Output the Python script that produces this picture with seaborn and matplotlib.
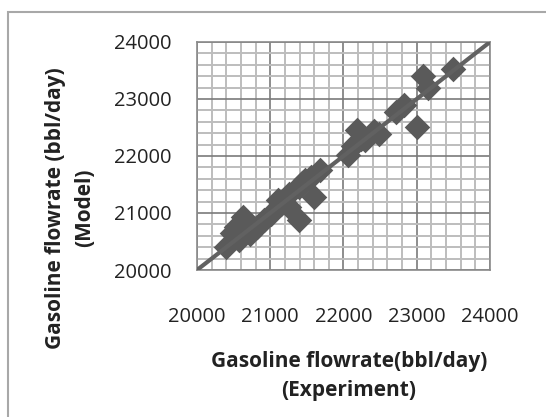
import matplotlib
matplotlib.use("Agg")
import matplotlib.pyplot as plt
import matplotlib.patches as patches
from matplotlib.ticker import MultipleLocator
import pandas as pd
import seaborn as sns

# gasoline flowrate, bbl/day
experiment = [23490, 23080, 23150, 22820, 22720, 23000, 22180, 22410, 22300, 22130,
              22060, 21680, 21560, 21440, 21600, 21390, 21250, 21100, 21250, 21390,
              21010, 20910, 20820, 20630, 20530, 20580, 20390, 20720, 20670, 21150,
              22240, 22480, 21480, 20480]
model = [23520, 23400, 23190, 22900, 22780, 22500, 22460, 22430, 22280, 22170,
         22020, 21750, 21640, 21520, 21280, 21460, 21340, 21220, 21100, 20870,
         20990, 20870, 20750, 20930, 20750, 20520, 20400, 20640, 20850, 21150,
         22300, 22380, 21580, 20650]
fit_x = [20000, 24000]
fit_y = [20000, 24000]
ticks = [20000, 21000, 22000, 23000, 24000]

df = pd.DataFrame({"experiment": experiment, "model": model})

sns.set_style("white")
plt.rcParams["font.family"] = ["Open Sans", "DejaVu Sans"]

fig = plt.figure(figsize=(5.46, 4.17), dpi=100)
ax = fig.add_axes([197 / 546, 1 - 270 / 417, 293 / 546, 228 / 417])

sns.scatterplot(data=df, x="experiment", y="model", marker="D", s=170,
                color="#5a5a5a", edgecolor="#5a5a5a", linewidth=0, ax=ax, zorder=3)
sns.lineplot(x=fit_x, y=fit_y, color="#616161", linewidth=3, ax=ax, zorder=4)

ax.set_xlim(20000, 24000)
ax.set_ylim(20000, 24000)
ax.set_xticks(ticks)
ax.set_yticks(ticks)
ax.xaxis.set_minor_locator(MultipleLocator(200))
ax.yaxis.set_minor_locator(MultipleLocator(200))
ax.grid(which="minor", color="#bdbdbd", linewidth=1.4, zorder=0)
ax.grid(which="major", color="#7a7a7a", linewidth=1.2, zorder=1)
ax.set_axisbelow(True)
for s in ax.spines.values():
    s.set_color("#8a8a8a")
    s.set_linewidth(1.2)

ax.tick_params(which="major", direction="out", length=6.5, width=1.2, color="#8a8a8a",
               labelsize=14.5, colors="#8a8a8a", labelcolor="#222222")
ax.tick_params(which="minor", length=0)
ax.tick_params(axis="x", pad=20)
ax.tick_params(axis="y", pad=12)

ax.set_xlabel("")
ax.set_ylabel("")
fig.text(349 / 546, 1 - 376 / 417, "Gasoline flowrate(bbl/day)\n(Experiment)",
         ha="center", va="center", fontsize=15, fontweight="bold", linespacing=1.5,
         color="#222222")
fig.text(70 / 546, 1 - 208 / 417, "Gasoline flowrate (bbl/day)\n(Model)",
         ha="center", va="center", rotation=90, fontsize=15, fontweight="bold",
         linespacing=1.5, color="#222222")

fig.patches.append(patches.Rectangle((8 / 546, -0.1), 1.2, 1.1 - 12 / 417, fill=False,
                                     edgecolor="#a8a8a8", linewidth=1.5,
                                     transform=fig.transFigure, figure=fig))

plt.savefig("out.png", dpi=100)
